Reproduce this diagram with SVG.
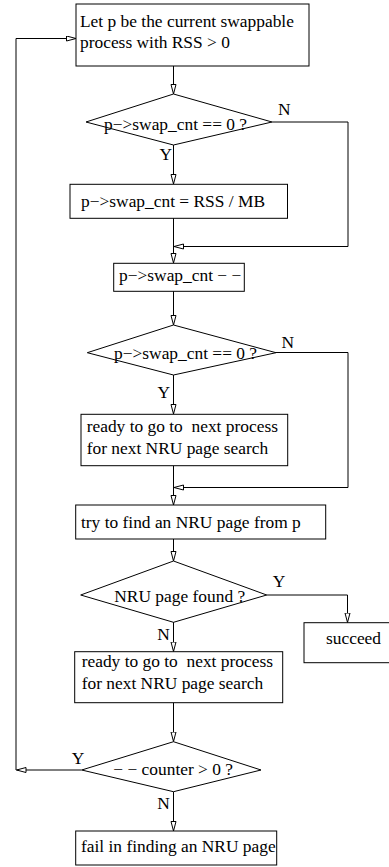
<svg xmlns="http://www.w3.org/2000/svg" width="389" height="867" viewBox="0 0 389 867">
<style>
.n{fill:#fff;stroke:#000;stroke-width:1}
.t{font-family:'Liberation Serif','DejaVu Serif',Times,serif;font-size:17.4px;fill:#000}
.c{fill:none;stroke:#000;stroke-width:1}
</style>
<defs>
<marker id="a" markerUnits="userSpaceOnUse" markerWidth="12" markerHeight="8" refX="10" refY="3" orient="auto">
<path d="M0.5,0.5 L10,3 L0.5,5.5 Z" fill="#fff" stroke="#000" stroke-width="1"/>
</marker>
</defs>
<rect width="389" height="867" fill="#fff"/>
<g id="connectors">
<path class="c" d="M173.5,66 V94" marker-end="url(#a)"/>
<path class="c" d="M272,122 H348 V246.5 H174" marker-end="url(#a)"/>
<path class="c" d="M173.5,145 V184" marker-end="url(#a)"/>
<path class="c" d="M173.5,218 V263" marker-end="url(#a)"/>
<path class="c" d="M173.5,291 V325" marker-end="url(#a)"/>
<path class="c" d="M276,352.5 H348 V487.5 H174" marker-end="url(#a)"/>
<path class="c" d="M173.5,375 V414" marker-end="url(#a)"/>
<path class="c" d="M173.5,465.5 V505" marker-end="url(#a)"/>
<path class="c" d="M173.5,539 V561" marker-end="url(#a)"/>
<path class="c" d="M266.5,595 H347.5 V622.5" marker-end="url(#a)"/>
<path class="c" d="M173.5,622 V651.5" marker-end="url(#a)"/>
<path class="c" d="M173.5,702.5 V741.5" marker-end="url(#a)"/>
<path class="c" d="M81.5,770 H16.5" marker-end="url(#a)"/>
<path class="c" d="M16,770 V38.5 H76" marker-end="url(#a)"/>
<path class="c" d="M173.5,791.5 V831" marker-end="url(#a)"/>
</g>
<g id="start">
<rect class="n" x="76" y="4" width="233" height="62"/>
<text class="t" x="80" y="27.3">Let p be the current swappable</text>
<text class="t" x="80" y="48.3">process with RSS &gt; 0</text>
</g>
<g id="dec1">
<polygon class="n" points="173.5,94 272,122 173.5,145 86,122"/>
<text class="t" x="104" y="129.5">p−&gt;swap_cnt == 0 ?</text>
<text class="t" x="278" y="115">N</text>
<text class="t" x="159.5" y="160">Y</text>
</g>
<g id="set">
<rect class="n" x="70" y="184.3" width="217.5" height="34"/>
<text class="t" x="81" y="206.5">p−&gt;swap_cnt = RSS / MB</text>
</g>
<g id="dec">
<rect class="n" x="113.7" y="263.3" width="130.6" height="28"/>
<text class="t" x="119" y="280.5">p−&gt;swap_cnt − −</text>
</g>
<g id="dec2">
<polygon class="n" points="173.5,325 276,352.7 173.5,375 87.3,352.7"/>
<text class="t" x="114" y="358.5">p−&gt;swap_cnt == 0 ?</text>
<text class="t" x="281.5" y="347.5">N</text>
<text class="t" x="157.5" y="397.5">Y</text>
</g>
<g id="ready1">
<rect class="n" x="81" y="414.3" width="206.7" height="51.4"/>
<text class="t" x="86.7" y="431.7" xml:space="preserve">ready to go to  next process</text>
<text class="t" x="86.7" y="454.3">for next NRU page search</text>
</g>
<g id="try">
<rect class="n" x="75.7" y="505" width="250" height="34"/>
<text class="t" x="81" y="528.3">try to find an NRU page from p</text>
</g>
<g id="dec3">
<polygon class="n" points="173.5,561 266.7,595 173.5,622.3 80.7,595"/>
<text class="t" x="114.3" y="601.5">NRU page found ?</text>
<text class="t" x="272.7" y="586.7">Y</text>
<text class="t" x="157.3" y="640">N</text>
</g>
<g id="succeed">
<rect class="n" x="304" y="622.7" width="90" height="40"/>
<text class="t" x="326" y="644.3">succeed</text>
</g>
<g id="ready2">
<rect class="n" x="74.7" y="651.7" width="208" height="51"/>
<text class="t" x="81.7" y="666.7" xml:space="preserve">ready to go to  next process</text>
<text class="t" x="81.7" y="689.3">for next NRU page search</text>
</g>
<g id="dec4">
<polygon class="n" points="173.5,741.7 261,770 173.5,791.7 81.7,770"/>
<text class="t" x="113.3" y="775">− − counter &gt; 0 ?</text>
<text class="t" x="71.7" y="764">Y</text>
<text class="t" x="157.3" y="809">N</text>
</g>
<g id="fail">
<rect class="n" x="75.7" y="831" width="201" height="34"/>
<text class="t" x="81" y="851.7">fail in finding an NRU page</text>
</g>
</svg>
